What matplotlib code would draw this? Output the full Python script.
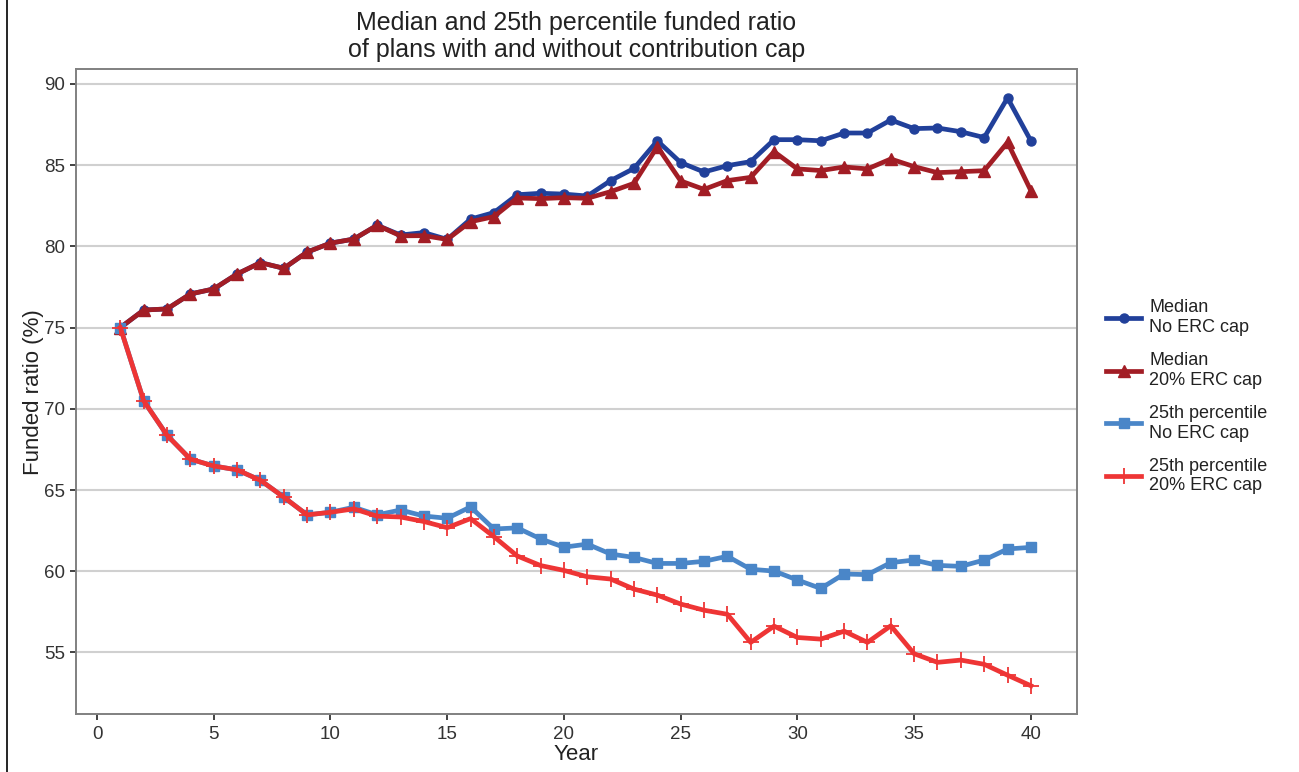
import matplotlib
matplotlib.use("Agg")
import matplotlib.pyplot as plt
from matplotlib.lines import Line2D

plt.rcParams['font.family'] = ['Liberation Sans', 'DejaVu Sans']

years = list(range(1, 41))

median_no_cap = [75.0, 76.08, 76.15, 77.07, 77.38, 78.30, 79.0, 78.65, 79.65, 80.2,
                 80.45, 81.3, 80.7, 80.85, 80.43, 81.68, 82.08, 83.18, 83.27, 83.22,
                 83.1, 84.05, 84.8, 86.5, 85.16, 84.58, 84.97, 85.22, 86.57, 86.57,
                 86.5, 86.98, 86.98, 87.78, 87.25, 87.29, 87.06, 86.7, 89.14, 86.5]
median_cap = [75.0, 76.08, 76.15, 77.07, 77.38, 78.30, 79.0, 78.65, 79.65, 80.2,
              80.45, 81.3, 80.65, 80.66, 80.43, 81.52, 81.83, 82.98, 82.94, 83.0,
              82.96, 83.37, 83.88, 86.14, 84.03, 83.51, 84.05, 84.25, 85.83, 84.77,
              84.67, 84.89, 84.77, 85.38, 84.91, 84.54, 84.6, 84.66, 86.4, 83.43]
p25_no_cap = [75.0, 70.49, 68.37, 66.9, 66.48, 66.24, 65.6, 64.56, 63.47, 63.63,
              63.94, 63.47, 63.77, 63.4, 63.26, 63.96, 62.6, 62.67, 61.99, 61.48,
              61.67, 61.06, 60.85, 60.48, 60.48, 60.61, 60.92, 60.12, 60.01, 59.46,
              58.94, 59.83, 59.79, 60.53, 60.69, 60.36, 60.3, 60.69, 61.37, 61.47]
p25_cap = [75.0, 70.49, 68.37, 66.9, 66.48, 66.24, 65.6, 64.56, 63.47, 63.63,
           63.84, 63.39, 63.34, 63.06, 62.68, 63.24, 62.13, 60.94, 60.35, 60.05,
           59.66, 59.52, 58.9, 58.53, 57.98, 57.6, 57.35, 55.62, 56.62, 55.92,
           55.82, 56.31, 55.62, 56.64, 54.92, 54.39, 54.53, 54.27, 53.6, 52.95]

labels = ["Median\nNo ERC cap", "Median\n20% ERC cap",
          "25th percentile\nNo ERC cap", "25th percentile\n20% ERC cap"]
colors = ["#21409a", "#a21d25", "#4a86c8", "#ee3535"]

fig = plt.figure(figsize=(12.99, 7.72), dpi=100)
ax = fig.add_axes([0.0585, 0.0745, 0.7705, 0.8361])

# medians underneath, 25th percentile lines on top
ax.plot(years, median_no_cap, color=colors[0], lw=3.4, marker='o', ms=6.5,
        label=labels[0], zorder=3)
ax.plot(years, median_cap, color=colors[1], lw=3.4, marker='^', ms=8,
        label=labels[1], zorder=4)
ax.plot(years, p25_no_cap, color=colors[2], lw=3.4, marker='s', ms=7,
        label=labels[2], zorder=5)
ax.plot(years, p25_cap, color=colors[3], lw=3.4, marker='+', ms=11, mew=1.3,
        label=labels[3], zorder=6)

ax.set_xlim(-0.9, 41.97)
ax.set_ylim(51.18, 90.92)
ax.set_xticks(range(0, 41, 5))
ax.set_yticks(range(55, 91, 5))

ax.grid(axis='y', color='#d0d0d0', lw=1.5)
ax.set_axisbelow(True)
for s in ax.spines.values():
    s.set_color('#808080')
    s.set_linewidth(1.4)
ax.tick_params(axis='both', colors='#333333', labelsize=13.5, length=4, width=1.3,
               direction='out', labelcolor='#333333', pad=4)

ax.set_xlabel("Year", fontsize=16, color='#222222', labelpad=1)
ax.set_ylabel("Funded ratio (%)", fontsize=16, color='#222222', labelpad=0)
ax.set_title("Median and 25th percentile funded ratio\nof plans with and without contribution cap",
             fontsize=18, color='#222222', pad=9, linespacing=1.15)

fig.legend(loc='center left', bbox_to_anchor=(0.839, 0.486),
           frameon=False, fontsize=13, handlelength=1.95, labelspacing=0.9,
           handletextpad=0.45, labelcolor='#222222')

# thin black border line on the left of the image
fig.add_artist(Line2D([0.0055, 0.0055], [0, 1], transform=fig.transFigure,
                      color='black', lw=1.2))

fig.savefig("out.png", dpi=100)
